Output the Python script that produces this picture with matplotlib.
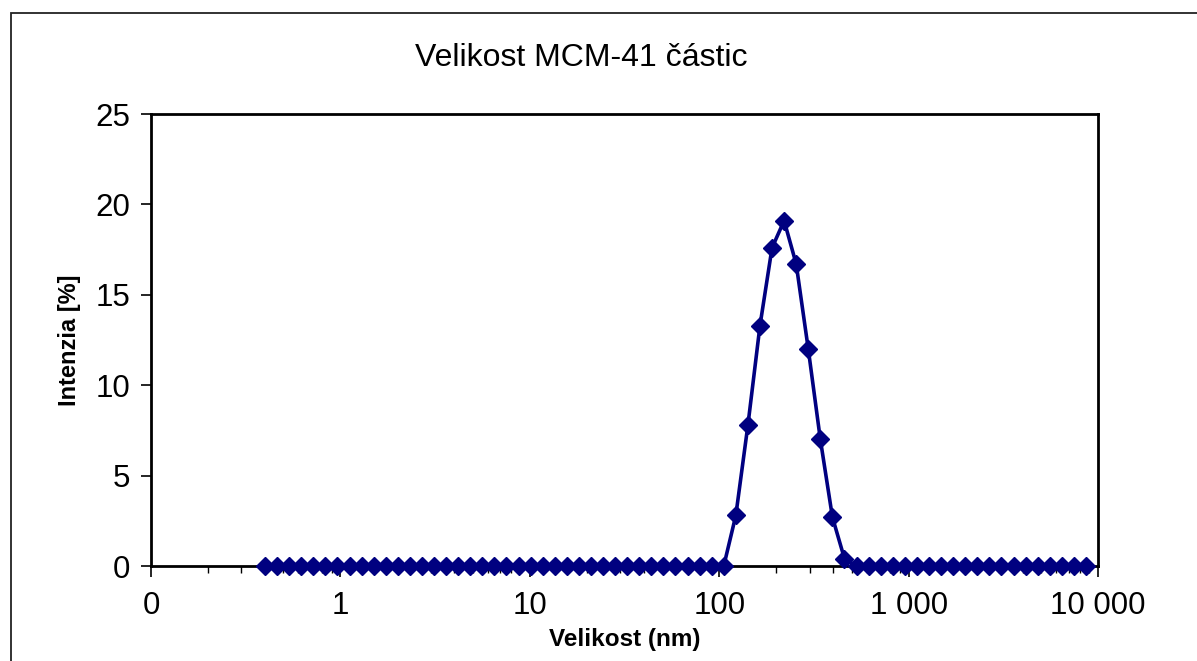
import matplotlib
matplotlib.use("Agg")
import matplotlib.pyplot as plt
from matplotlib.ticker import FixedLocator, FixedFormatter, LogLocator, NullFormatter
from matplotlib.patches import Rectangle

plt.rcParams['font.family'] = ['Liberation Sans', 'DejaVu Sans']

# Size bins (nm)
sizes = [0.4, 0.4632, 0.5365, 0.6213, 0.7195, 0.8332, 0.9649, 1.117, 1.294, 1.499,
         1.736, 2.010, 2.328, 2.696, 3.122, 3.615, 4.187, 4.849, 5.615, 6.503,
         7.531, 8.721, 10.10, 11.70, 13.54, 15.69, 18.17, 21.04, 24.36, 28.21,
         32.67, 37.84, 43.82, 50.75, 58.77, 68.06, 78.82, 91.28, 105.7, 122.4,
         141.8, 164.2, 190.1, 220.2, 255.0, 295.3, 342.0, 396.1, 458.7, 531.2,
         615.1, 712.4, 825.0, 955.4, 1106, 1281, 1484, 1718, 1990, 2305,
         2669, 3091, 3580, 4145, 4801, 5560, 6439, 7456, 8635]
# Intensity (%)
intensity = [0, 0, 0, 0, 0, 0, 0, 0, 0, 0,
             0, 0, 0, 0, 0, 0, 0, 0, 0, 0,
             0, 0, 0, 0, 0, 0, 0, 0, 0, 0,
             0, 0, 0, 0, 0, 0, 0, 0, 0, 2.8,
             7.8, 13.3, 17.6, 19.1, 16.7, 12.0, 7.0, 2.7, 0.4, 0,
             0, 0, 0, 0, 0, 0, 0, 0, 0, 0,
             0, 0, 0, 0, 0, 0, 0, 0, 0]

x_ticks = [0.1, 1, 10, 100, 1000, 10000]
x_tick_labels = ["0", "1", "10", "100", "1 000", "10 000"]
y_ticks = [0, 5, 10, 15, 20, 25]

title = "Velikost MCM-41 částic"
xlabel = "Velikost (nm)"
ylabel = "Intenzia [%]"

W, H = 1197, 661
fig = plt.figure(figsize=(W / 100, H / 100), dpi=100)
fig.patch.set_facecolor('white')

# outer chart-area frame
fig.patches.append(Rectangle((11 / W, -0.1), 1.2, 1 - 13 / H + 0.1,
                             transform=fig.transFigure, fill=False,
                             edgecolor='#222222', linewidth=1.3))

ax = fig.add_axes([151 / W, 1 - 566 / H, (1098 - 151) / W, (566 - 114) / H])
ax.plot(sizes, intensity, color='#000080', linewidth=2.6, marker='D',
        markersize=9.5, markerfacecolor='#000080', markeredgecolor='#000080',
        clip_on=False, zorder=3)

ax.set_xscale('log')
ax.set_xlim(0.1, 10000)
ax.set_ylim(0, 25)
ax.xaxis.set_major_locator(FixedLocator(x_ticks))
ax.xaxis.set_major_formatter(FixedFormatter(x_tick_labels))
ax.xaxis.set_minor_locator(LogLocator(base=10, subs=range(2, 10), numticks=20))
ax.xaxis.set_minor_formatter(NullFormatter())
ax.yaxis.set_major_locator(FixedLocator(y_ticks))

for s in ax.spines.values():
    s.set_linewidth(2.0)
    s.set_color('black')

ax.tick_params(axis='x', which='major', direction='out', length=8, width=1.2,
               labelsize=22.5, pad=10)
ax.tick_params(axis='x', which='minor', direction='out', length=5, width=1.0)
ax.tick_params(axis='y', which='major', direction='out', length=7, width=1.2,
               labelsize=22.5, pad=8)

ax.set_xlabel(xlabel, fontsize=17.5, fontweight='bold', labelpad=5)
ax.set_ylabel(ylabel, fontsize=17, fontweight='bold', labelpad=10)

fig.text(581 / W, 1 - 58 / H, title, fontsize=23, ha='center', va='center')

fig.savefig('out.png', dpi=100, facecolor='white')
